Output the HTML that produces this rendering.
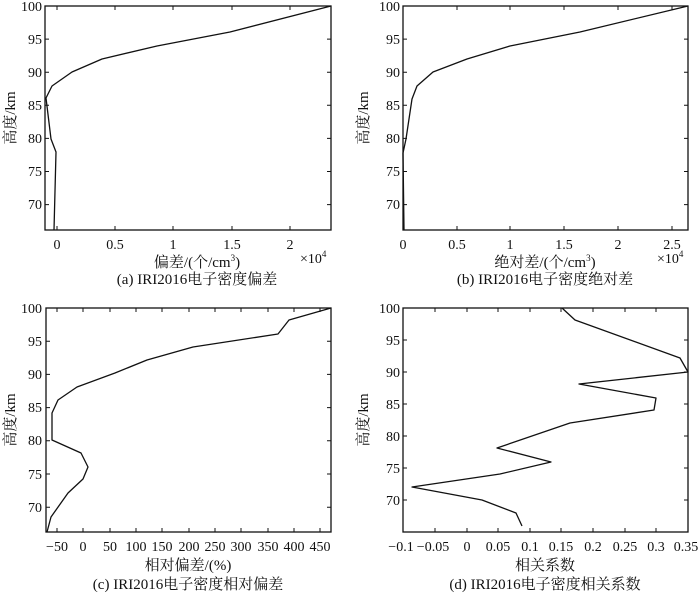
<!DOCTYPE html>
<html><head><meta charset="utf-8"><style>
html,body{margin:0;padding:0;background:#fff}
svg{display:block}
text{font-family:"Liberation Serif","Times New Roman","DejaVu Serif","Noto Serif CJK SC",serif;fill:#111}
.t{font-size:14px}
.l{font-size:15px}
</style></head><body>
<svg width="700" height="594" viewBox="0 0 700 594" xmlns="http://www.w3.org/2000/svg" font-family="Liberation Serif, Noto Serif CJK SC, serif">
<g fill="none" stroke="#111" stroke-width="1.3">
<rect x="45" y="6" width="286" height="224"/>
<rect x="403" y="6" width="285" height="224"/>
<rect x="46" y="308" width="285" height="224"/>
<rect x="403" y="308" width="285" height="224"/>
</g>
<g stroke="#111" stroke-width="1">
<path d="M45 6h4M45 39.1h4M45 72.2h4M45 105.3h4M45 138.4h4M45 171.5h4M45 204.6h4 M331 6h-4M331 39.1h-4M331 72.2h-4M331 105.3h-4M331 138.4h-4M331 171.5h-4M331 204.6h-4"/>
<path d="M57 230v-4M115 230v-4M173 230v-4M232 230v-4M290 230v-4 M57 6v4M115 6v4M173 6v4M232 6v4M290 6v4"/>
<path d="M403 6h4M403 39.1h4M403 72.2h4M403 105.3h4M403 138.4h4M403 171.5h4M403 204.6h4 M688 6h-4M688 39.1h-4M688 72.2h-4M688 105.3h-4M688 138.4h-4M688 171.5h-4M688 204.6h-4"/>
<path d="M403 230v-4M457 230v-4M510 230v-4M564 230v-4M618 230v-4M672 230v-4 M403 6v4M457 6v4M510 6v4M564 6v4M618 6v4M672 6v4"/>
<path d="M46 308h4M46 341.2h4M46 374.4h4M46 407.6h4M46 440.8h4M46 474h4M46 507.2h4 M331 308h-4M331 341.2h-4M331 374.4h-4M331 407.6h-4M331 440.8h-4M331 474h-4M331 507.2h-4"/>
<path d="M57 532v-4M83 532v-4M110 532v-4M136 532v-4M162 532v-4M189 532v-4M215 532v-4M241 532v-4M268 532v-4M294 532v-4M320 532v-4 M57 308v4M83 308v4M110 308v4M136 308v4M162 308v4M189 308v4M215 308v4M241 308v4M268 308v4M294 308v4M320 308v4"/>
<path d="M403 308h4M403 340h4M403 372h4M403 404h4M403 436h4M403 468h4M403 500h4 M688 308h-4M688 340h-4M688 372h-4M688 404h-4M688 436h-4M688 468h-4M688 500h-4"/>
<path d="M435 532v-4M467 532v-4M498 532v-4M530 532v-4M561 532v-4M593 532v-4M625 532v-4M656 532v-4 M435 308v4M467 308v4M498 308v4M530 308v4M561 308v4M593 308v4M625 308v4M656 308v4"/>
</g>
<g fill="none" stroke="#111" stroke-width="1.3" stroke-linejoin="round">
<polyline points="331,6 230,32 157,46 102,59 72,72 52,86 46,98 51,139 56,152 54,230"/>
<polyline points="688,6 580,32 510,46 467,59 433,72 417,86 412,99 406,139 403,153 404,230"/>
<polyline points="331,308 289,320 278,334 193,347 147,360 115,373 77,387 58,400 52,413 52,440 81,453 88,467 83,479 68,493 51,517 47,532"/>
<polyline points="562,308 575,320 680,358 688,372 579,384 656,398 654,410 570,423 497,448 551,462 500,474 412,487 482,500 516,513 522,526"/>
</g>
<g class="t" text-anchor="end">
<text x="42" y="11">100</text><text x="42" y="44">95</text><text x="42" y="77">90</text><text x="42" y="110">85</text><text x="42" y="143">80</text><text x="42" y="176">75</text><text x="42" y="209">70</text>
<text x="400" y="11">100</text><text x="400" y="44">95</text><text x="400" y="77">90</text><text x="400" y="110">85</text><text x="400" y="143">80</text><text x="400" y="176">75</text><text x="400" y="209">70</text>
<text x="42" y="313">100</text><text x="42" y="346">95</text><text x="42" y="379">90</text><text x="42" y="412">85</text><text x="42" y="445">80</text><text x="42" y="479">75</text><text x="42" y="512">70</text>
<text x="400" y="313">100</text><text x="400" y="345">95</text><text x="400" y="377">90</text><text x="400" y="409">85</text><text x="400" y="441">80</text><text x="400" y="473">75</text><text x="400" y="505">70</text>
</g>
<g class="t" text-anchor="middle">
<text x="57" y="249">0</text><text x="115" y="249">0.5</text><text x="173" y="249">1</text><text x="232" y="249">1.5</text><text x="290" y="249">2</text>
<text x="403" y="249">0</text><text x="457" y="249">0.5</text><text x="510" y="249">1</text><text x="564" y="249">1.5</text><text x="618" y="249">2</text><text x="672" y="249">2.5</text>
<text x="57" y="551">−50</text><text x="83" y="551">0</text><text x="110" y="551">50</text><text x="136" y="551">100</text><text x="162" y="551">150</text><text x="189" y="551">200</text><text x="215" y="551">250</text><text x="241" y="551">300</text><text x="268" y="551">350</text><text x="294" y="551">400</text><text x="320" y="551">450</text>
<text x="401" y="551">−0.1</text><text x="433" y="551">−0.05</text><text x="467" y="551">0</text><text x="498" y="551">0.05</text><text x="530" y="551">0.1</text><text x="561" y="551">0.15</text><text x="593" y="551">0.2</text><text x="625" y="551">0.25</text><text x="656" y="551">0.3</text><text x="686" y="551">0.35</text>
</g>
<g class="t">
<text x="300" y="263">×10<tspan font-size="9" dy="-6">4</tspan></text>
<text x="657" y="263">×10<tspan font-size="9" dy="-6">4</tspan></text>
</g>
<g class="l" text-anchor="middle">
<text x="197" y="267">偏差/(个/cm<tspan font-size="9" dy="-6">3</tspan><tspan dy="6">)</tspan></text>
<text x="197" y="284">(a) IRI2016电子密度偏差</text>
<text x="545" y="267">绝对差/(个/cm<tspan font-size="9" dy="-6">3</tspan><tspan dy="6">)</tspan></text>
<text x="545" y="284">(b) IRI2016电子密度绝对差</text>
<text x="188" y="570">相对偏差/(%)</text>
<text x="188" y="589">(c) IRI2016电子密度相对偏差</text>
<text x="545" y="570">相关系数</text>
<text x="545" y="589">(d) IRI2016电子密度相关系数</text>
<text transform="translate(15,118) rotate(-90)">高度/km</text>
<text transform="translate(368,118) rotate(-90)">高度/km</text>
<text transform="translate(15,420) rotate(-90)">高度/km</text>
<text transform="translate(368,420) rotate(-90)">高度/km</text>
</g>
</svg>
</body></html>
